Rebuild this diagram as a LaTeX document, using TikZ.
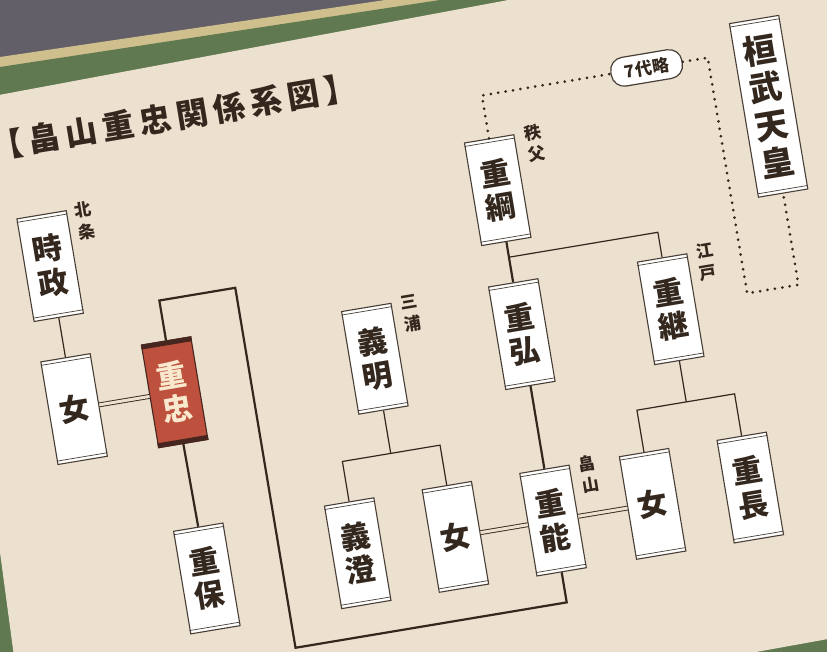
\documentclass[tikz,border=0pt]{standalone}
\usepackage{fontspec}
\newfontfamily\cjk{Noto Sans CJK JP}
\usetikzlibrary{calc}
\definecolor{paper}{RGB}{236,225,207}
\definecolor{cover}{RGB}{96,121,80}
\definecolor{outer}{RGB}{98,95,104}
\definecolor{goldline}{RGB}{206,191,140}
\definecolor{ink}{RGB}{52,40,30}
\definecolor{boxline}{RGB}{72,62,54}
\definecolor{redbox}{RGB}{190,80,62}
\definecolor{redbar}{RGB}{70,38,30}
\definecolor{redtext}{RGB}{248,233,206}
\newcommand\namefont{\cjk\bfseries\fontsize{30}{34}\selectfont}
\newcommand\tsp{\hspace{5.5pt}}
\tikzset{
  namebox/.style={draw=boxline, line width=1.1pt, fill=white, minimum width=50pt,
    minimum height=104pt, inner sep=0pt, font=\namefont, align=center, text=ink},
  lbl/.style={font=\cjk\bfseries\fontsize{17}{22}\selectfont, align=center, inner sep=0pt, text=ink},
  thinline/.style={draw=ink, line width=1.2pt},
  thickline/.style={draw=ink, line width=2.2pt},
  marriage/.style={draw=ink, line width=0.9pt, double=paper, double distance=3pt},
  dotline/.style={draw=ink, line width=3pt, dash pattern=on 0pt off 7.5pt, line cap=round},
}
\newcommand\scrollbox[3]{%
  \node[namebox] (#1) at (#2) {#3};
  \draw[boxline, line width=0.7pt] ($(#1.north west)!4pt!(#1.south west)$) -- ($(#1.north east)!4pt!(#1.south east)$);
  \draw[boxline, line width=0.7pt] ($(#1.south west)!4pt!(#1.north west)$) -- ($(#1.south east)!4pt!(#1.north east)$);
}
\newcommand\redscroll[3]{%
  \node[namebox, fill=redbox, draw=redbar, text=redtext] (#1) at (#2) {#3};
  \fill[redbar] (#1.north west) -- (#1.north east) -- ($(#1.north east)!5pt!(#1.south east)$) -- ($(#1.north west)!5pt!(#1.south west)$) -- cycle;
  \fill[redbar] (#1.south west) -- (#1.south east) -- ($(#1.south east)!5pt!(#1.north east)$) -- ($(#1.south west)!5pt!(#1.north west)$) -- cycle;
}
\begin{document}
\begin{tikzpicture}[x=1pt,y=-1pt]
\useasboundingbox (0,0) rectangle (827,652);
% background: grey surround, gold edge, green cloth cover, paper sheet
\fill[outer] (0,0) rectangle (827,652);
\fill[goldline] (0,57) -- (385,0) -- (827,0) -- (827,652) -- (0,652) -- cycle;
\fill[cover] (0,67) -- (440,0) -- (827,0) -- (827,652) -- (0,652) -- cycle;
\fill[paper] (-60,106) -- (830,-60) -- (900,626) -- (31,783) -- cycle;
\begin{scope}[rotate around={9.5:(413,326)}, transform shape]
  % title
  \node[font=\cjk\bfseries\fontsize{32}{32}\selectfont, text=ink, inner sep=0pt] (title) at (212,80)
    {【\tsp 畠\tsp 山\tsp 重\tsp 忠\tsp 関\tsp 係\tsp 系\tsp 図\tsp 】};
  % boxes
  \node[namebox, minimum height=176pt, font=\cjk\bfseries\fontsize{33}{38}\selectfont] (kanmu) at (800,168) {桓\\武\\天\\皇};
  \draw[boxline, line width=0.7pt] ($(kanmu.north west)!4pt!(kanmu.south west)$) -- ($(kanmu.north east)!4pt!(kanmu.south east)$);
  \draw[boxline, line width=0.7pt] ($(kanmu.south west)!4pt!(kanmu.north west)$) -- ($(kanmu.south east)!4pt!(kanmu.north east)$);
  \scrollbox{tokimasa}{65,207}{時\\政}
  \scrollbox{tsuna}{519,206}{重\\綱}
  \scrollbox{onnaL}{65,352}{女}
  \redscroll{tada}{167,352}{重\\忠}
  \scrollbox{yoshiaki}{370,352}{義\\明}
  \scrollbox{hiro}{519,352}{重\\弘}
  \scrollbox{tsugu}{670,352}{重\\継}
  \scrollbox{yasu}{168,541}{重\\保}
  \scrollbox{yoshizumi}{321,541}{義\\澄}
  \scrollbox{onnaM}{420,541}{女}
  \scrollbox{yoshi}{519,541}{重\\能}
  \scrollbox{onnaR}{620,541}{女}
  \scrollbox{naga}{719,541}{重\\長}
  % clan labels
  \node[lbl] (lhojo) at (107,168) {北\\条};
  \node[lbl] (lchichibu) at (563,166) {秩\\父};
  \node[lbl] (ledo) at (713,311) {江\\戸};
  \node[lbl] (lmiura) at (413,313) {三\\浦};
  \node[lbl] (lhatake) at (562,501) {畠\\山};
  % omitted generations
  \node[draw=boxline, fill=white, line width=1.2pt, rounded corners=13pt, minimum width=72pt,
        minimum height=29pt, inner sep=0pt, text=ink,
        font=\cjk\bfseries\fontsize{17}{17}\selectfont] (bubble) at (686,110) {7\hspace{1.5pt}代略};
  \coordinate (d1) at (519,110);
  \coordinate (d2) at (748,110);
  \coordinate (d3) at (748,349);
  \coordinate (d4) at (800,349);
  \draw[dotline] (tsuna.north) -- (d1) -- (bubble.west);
  \draw[dotline] (bubble.east) -- (d2) -- (d3) -- (d4) -- (kanmu.south);
  % junctions
  \coordinate (j1) at (519,274);
  \coordinate (j1r) at (670,274);
  \coordinate (j2) at (370,448);
  \coordinate (j2l) at (321,448);
  \coordinate (j2r) at (420,448);
  \coordinate (j3) at (670,446);
  \coordinate (j3l) at (620,446);
  \coordinate (j3r) at (719,446);
  \coordinate (l1) at (519,624);
  \coordinate (l2) at (244,624);
  \coordinate (l3) at (244,259);
  \coordinate (l4) at (167,259);
  % connectors
  \draw[thickline] (tsuna.south) -- (hiro.north);
  \draw[thinline] (j1) -- (j1r) -- (tsugu.north);
  \draw[thickline] (hiro.south) -- (yoshi.north);
  \draw[thickline] (yoshi.south) -- (l1) -- (l2) -- (l3) -- (l4) -- (tada.north);
  \draw[thickline] (tada.south) -- (yasu.north);
  \draw[thinline] (tokimasa.south) -- (onnaL.north);
  \draw[thinline] (yoshiaki.south) -- (j2);
  \draw[thinline] (yoshizumi.north) -- (j2l) -- (j2r) -- (onnaM.north);
  \draw[thinline] (tsugu.south) -- (j3);
  \draw[thinline] (onnaR.north) -- (j3l) -- (j3r) -- (naga.north);
  \draw[marriage] (onnaL.east) -- (tada.west);
  \draw[marriage] (onnaM.east) -- (yoshi.west);
  \draw[marriage] (yoshi.east) -- (onnaR.west);
\end{scope}
\end{tikzpicture}
\end{document}
